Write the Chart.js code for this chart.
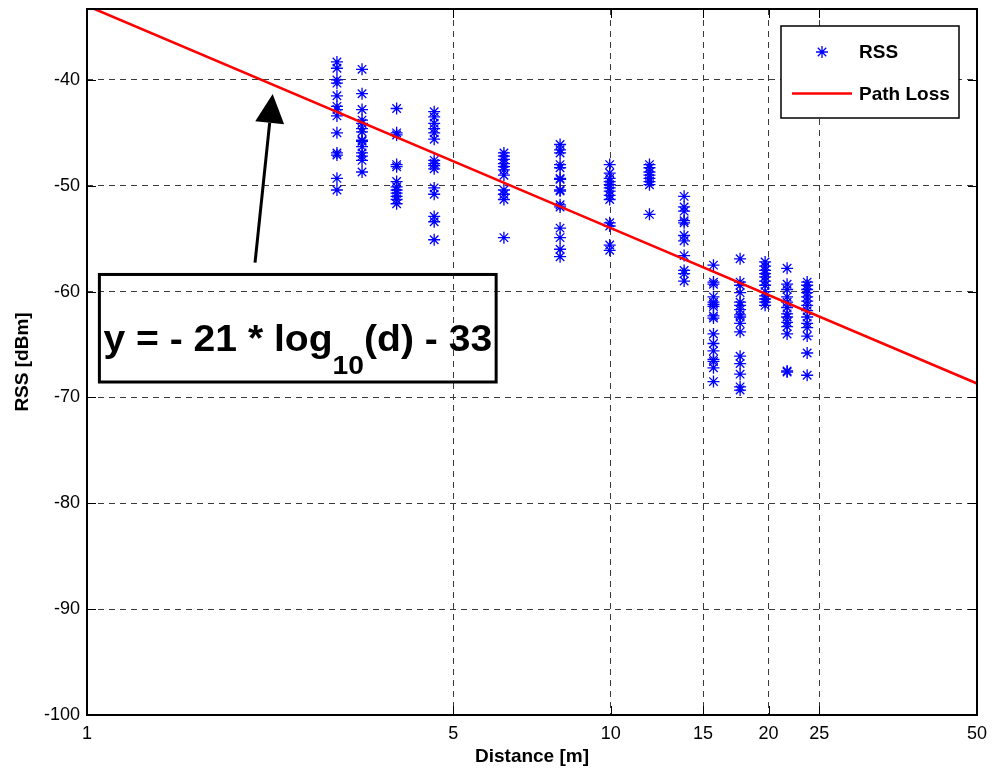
<!DOCTYPE html>
<html>
<head>
<meta charset="utf-8">
<script src="https://cdn.jsdelivr.net/npm/chart.js@4/dist/chart.umd.min.js"></script>
<style>
  html, body { margin: 0; padding: 0; background: #fff; }
  #wrap { width: 992px; height: 771px; position: relative; }
</style>
</head>
<body>
<div id="wrap"><canvas id="c"></canvas></div>
<script>
// Axis ticks
const distanceTicks = [1, 5, 10, 15, 20, 25, 50];
const rssTicks = [-100, -90, -80, -70, -60, -50, -40];

// Measurement positions [m]
const measureDistances = [3.0, 3.35, 3.9, 4.6, 6.25, 8.0, 9.95, 11.85, 13.8, 15.7, 17.65, 19.7, 21.7, 23.7];

// RSS readings [dBm] at each measurement position
const rssAt3_0  = [-38.3, -38.9, -40.0, -40.3, -41.5, -42.5, -42.8, -43.4, -45.0, -46.9, -47.1, -49.3, -50.4];
const rssAt3_35 = [-39.0, -41.3, -42.8, -43.8, -44.1, -44.6, -44.9, -45.7, -45.8, -46.3, -46.9, -47.2, -47.6, -48.7];
const rssAt3_9  = [-42.7, -45.0, -45.2, -48.0, -48.2, -49.6, -50.1, -50.4, -50.7, -51.0, -51.3, -51.7];
const rssAt4_6  = [-43.0, -43.5, -44.1, -44.6, -45.0, -45.6, -47.6, -47.9, -48.1, -48.4, -50.2, -50.8, -52.9, -53.4, -55.1];
const rssAt6_25 = [-46.9, -47.2, -47.5, -47.9, -48.2, -48.5, -49.0, -50.4, -50.8, -51.3, -54.9];
const rssAt8_0  = [-46.1, -46.6, -46.9, -48.0, -48.3, -49.3, -49.4, -50.4, -50.5, -51.8, -52.0, -54.0, -54.9, -56.0, -56.7];
const rssAt10   = [-48.0, -48.8, -49.3, -49.6, -49.9, -50.2, -50.5, -50.9, -51.3, -53.5, -53.8, -55.6, -56.1];
const rssAt12   = [-48.0, -48.3, -48.7, -49.0, -49.3, -49.6, -49.9, -52.7];
const rssAt14   = [-51.0, -52.0, -52.4, -53.3, -53.5, -54.7, -55.2, -56.6, -58.0, -58.3, -59.0];
const rssAt16   = [-57.5, -59.1, -59.3, -60.5, -61.0, -61.2, -61.4, -62.3, -62.5, -64.0, -64.9, -65.6, -66.4, -66.6, -67.2, -68.5];
const rssAt18   = [-56.9, -59.1, -59.4, -60.1, -61.0, -61.3, -61.7, -62.2, -62.4, -63.0, -63.8, -66.1, -66.8, -67.8, -69.0, -69.3];
const rssAt20   = [-57.2, -57.6, -58.0, -58.3, -58.6, -59.0, -59.4, -60.0, -60.4, -60.7, -61.0, -61.3];
const rssAt22   = [-57.8, -59.3, -59.8, -60.5, -61.0, -61.5, -62.1, -62.4, -62.9, -63.3, -64.0, -67.5, -67.6];
const rssAt24   = [-59.1, -59.4, -59.8, -60.1, -60.5, -60.9, -61.3, -61.8, -62.4, -63.0, -63.4, -64.2, -65.8, -67.9];

const rssReadings = [rssAt3_0, rssAt3_35, rssAt3_9, rssAt4_6, rssAt6_25, rssAt8_0, rssAt10,
                     rssAt12, rssAt14, rssAt16, rssAt18, rssAt20, rssAt22, rssAt24];

// Fitted path loss model y = -21*log10(d) - 33 (straight on a log distance axis)
const pathLossDistance = [1, 10, 50];
const pathLossRss = [-33, -54, -68.68];

const FONT = '"Liberation Sans", Arial, Helvetica, sans-serif';

const rssPoints = [];
measureDistances.forEach((d, i) => rssReadings[i].forEach(v => rssPoints.push({ x: d, y: v })));
const pathLossPoints = pathLossDistance.map((d, i) => ({ x: d, y: pathLossRss[i] }));

// Annotation placement (data coordinates)
const eqnBox = { d0: 1.056, d1: 6.04, top: -58.38, bottom: -68.54 };
const eqnArrow = { fromD: 2.093, fromRss: -57.26, toD: 2.262, toRss: -41.32 };

const framePlugin = {
  id: 'frame',
  afterDatasetsDraw(chart) {
    const { ctx, chartArea: a, scales } = chart;
    ctx.save();
    // inward tick marks on all four sides
    ctx.strokeStyle = '#000';
    ctx.lineWidth = 1;
    ctx.setLineDash([]);
    const tl = 9;
    scales.x.ticks.forEach(t => {
      const x = Math.round(scales.x.getPixelForValue(t.value)) + 0.5;
      ctx.beginPath();
      ctx.moveTo(x, a.bottom); ctx.lineTo(x, a.bottom - tl);
      ctx.moveTo(x, a.top); ctx.lineTo(x, a.top + tl);
      ctx.stroke();
    });
    scales.y.ticks.forEach(t => {
      const y = Math.round(scales.y.getPixelForValue(t.value)) + 0.5;
      ctx.beginPath();
      ctx.moveTo(a.left, y); ctx.lineTo(a.left + tl, y);
      ctx.moveTo(a.right, y); ctx.lineTo(a.right - tl, y);
      ctx.stroke();
    });
    // axes box
    ctx.lineWidth = 2;
    ctx.strokeRect(a.left, a.top, a.right - a.left, a.bottom - a.top);
    ctx.restore();
  }
};

const annotationPlugin = {
  id: 'equation',
  afterDatasetsDraw(chart) {
    const { ctx, scales: { x, y } } = chart;
    ctx.save();
    // arrow
    const x0 = x.getPixelForValue(eqnArrow.fromD), y0 = y.getPixelForValue(eqnArrow.fromRss);
    const x1 = x.getPixelForValue(eqnArrow.toD), y1 = y.getPixelForValue(eqnArrow.toRss);
    const len = Math.hypot(x1 - x0, y1 - y0);
    const ux = (x1 - x0) / len, uy = (y1 - y0) / len;
    const headL = 29, headW = 14.5;
    const bx = x1 - ux * headL, by = y1 - uy * headL;
    ctx.strokeStyle = '#000';
    ctx.fillStyle = '#000';
    ctx.lineWidth = 3;
    ctx.beginPath();
    ctx.moveTo(x0, y0); ctx.lineTo(bx, by);
    ctx.stroke();
    ctx.beginPath();
    ctx.moveTo(x1, y1);
    ctx.lineTo(bx - uy * headW, by + ux * headW);
    ctx.lineTo(bx + uy * headW, by - ux * headW);
    ctx.closePath();
    ctx.fill();

    // equation box (transparent)
    const L = x.getPixelForValue(eqnBox.d0), R = x.getPixelForValue(eqnBox.d1);
    const T = y.getPixelForValue(eqnBox.top), B = y.getPixelForValue(eqnBox.bottom);
    ctx.lineWidth = 3;
    ctx.strokeRect(L, T, R - L, B - T);

    // equation text with subscript, stretched to span the box
    const mainFont = 'bold 36px ' + FONT;
    const subFont = 'bold 26px ' + FONT;
    const p1 = 'y = - 21 * log', p2 = '10', p3 = '(d) - 33';
    ctx.font = mainFont;
    const w1 = ctx.measureText(p1).width, w3 = ctx.measureText(p3).width;
    ctx.font = subFont;
    const w2 = ctx.measureText(p2).width;
    const total = w1 + w2 + w3;
    const target = (R - L) - 8;
    const sx = target / total;
    const base = T + 77;
    ctx.translate((L + R) / 2 - target / 2, base);
    ctx.scale(sx, 1);
    ctx.textBaseline = 'alphabetic';
    ctx.textAlign = 'left';
    let tx = 0;
    ctx.font = mainFont; ctx.fillText(p1, tx, 0); tx += w1;
    ctx.font = subFont; ctx.fillText(p2, tx, 23); tx += w2;
    ctx.font = mainFont; ctx.fillText(p3, tx, 0);
    ctx.restore();
  }
};

const legendPlugin = {
  id: 'boxLegend',
  afterDraw(chart) {
    const { ctx, chartArea: a } = chart;
    const w = 178, h = 92;
    const left = a.right - 18 - w, top = a.top + 17;
    ctx.save();
    ctx.fillStyle = '#fff';
    ctx.fillRect(left, top, w, h);
    ctx.strokeStyle = '#000';
    ctx.lineWidth = 1.5;
    ctx.setLineDash([]);
    ctx.strokeRect(left, top, w, h);
    ctx.font = 'bold 19px ' + FONT;
    ctx.textBaseline = 'middle';
    ctx.textAlign = 'left';
    chart.data.datasets.forEach((ds, i) => {
      const cy = top + 26 + i * 41.5;
      ctx.strokeStyle = ds.borderColor;
      ctx.fillStyle = ds.borderColor;
      ctx.lineWidth = 1;
      if (ds.showLine) {
        ctx.lineWidth = ds.borderWidth;
        ctx.beginPath();
        ctx.moveTo(left + 11, cy); ctx.lineTo(left + 71, cy);
        ctx.stroke();
      } else {
        ctx.lineWidth = ds.borderWidth;
        Chart.helpers.drawPoint(ctx, {
          pointStyle: ds.pointStyle, radius: ds.pointRadius, borderWidth: ds.borderWidth, rotation: 0
        }, left + 41, cy);
      }
      ctx.fillStyle = '#000';
      ctx.fillText(ds.label, left + 78, cy + 1);
    });
    ctx.restore();
  }
};

const gridStyle = { color: '#3a3a3a', lineWidth: 1, drawTicks: false };
const zeroPad = s => { s.paddingTop = 0; s.paddingBottom = 0; s.paddingLeft = 0; s.paddingRight = 0; };

new Chart(document.getElementById('c'), {
  type: 'scatter',
  data: {
    datasets: [
      {
        label: 'RSS',
        data: rssPoints,
        pointStyle: 'star',
        pointRadius: 6,
        pointHoverRadius: 6,
        borderColor: '#0000ff',
        backgroundColor: '#0000ff',
        borderWidth: 1.3,
        showLine: false,
        order: 1
      },
      {
        label: 'Path Loss',
        data: pathLossPoints,
        showLine: true,
        borderColor: '#ff0000',
        backgroundColor: '#ff0000',
        borderWidth: 2.6,
        pointRadius: 0,
        tension: 0,
        order: 0
      }
    ]
  },
  options: {
    responsive: true,
    maintainAspectRatio: false,
    animation: false,
    devicePixelRatio: 1,
    layout: { padding: { top: 9, right: 15, left: 0, bottom: 0 } },
    plugins: { legend: { display: false }, tooltip: { enabled: false } },
    scales: {
      x: {
        type: 'logarithmic',
        min: 1,
        max: 50,
        afterBuildTicks: s => { s.ticks = distanceTicks.map(v => ({ value: v })); },
        afterFit: s => { s.height = 56; zeroPad(s); },
        ticks: {
          autoSkip: false, maxRotation: 0, padding: 8, color: '#000',
          font: { family: FONT, size: 18 },
          callback: v => String(v)
        },
        grid: gridStyle,
        border: { display: false, dash: [6, 5] },
        title: {
          display: true, text: 'Distance [m]', color: '#000',
          font: { family: FONT, size: 19, weight: 'bold' },
          padding: { top: 0, bottom: 3 }
        }
      },
      y: {
        type: 'linear',
        min: -100,
        max: -33.3,
        afterBuildTicks: s => { s.ticks = rssTicks.map(v => ({ value: v })); },
        afterFit: s => { s.width = 87; zeroPad(s); },
        ticks: {
          autoSkip: false, padding: 7, color: '#000',
          font: { family: FONT, size: 18 },
          callback: v => String(v)
        },
        grid: gridStyle,
        border: { display: false, dash: [6, 5] },
        title: {
          display: true, text: 'RSS [dBm]', color: '#000',
          font: { family: FONT, size: 19, weight: 'bold' },
          padding: { top: 11, bottom: 0 }
        }
      }
    }
  },
  plugins: [framePlugin, annotationPlugin, legendPlugin]
});
</script>
</body>
</html>
